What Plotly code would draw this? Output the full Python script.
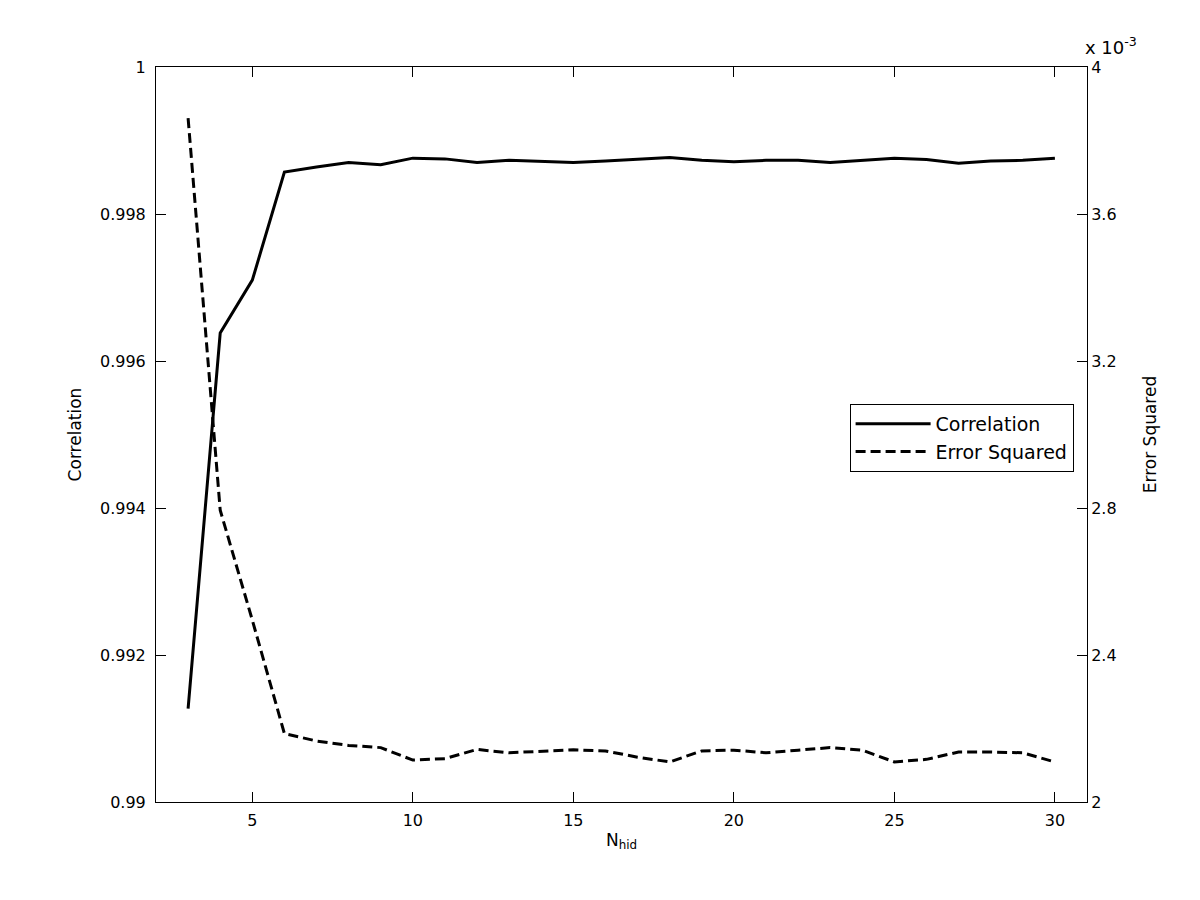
import plotly.graph_objects as go

# Dados
n_hid = list(range(3, 31))

correlation = [0.99127, 0.99638, 0.99710, 0.99857, 0.99864, 0.99870, 0.99867, 0.99876,
               0.99875, 0.99870, 0.99873, 0.99871, 0.99870, 0.99872, 0.99875, 0.99877,
               0.99873, 0.99871, 0.99873, 0.99873, 0.99870, 0.99873, 0.99876, 0.99874,
               0.99869, 0.99872, 0.99873, 0.99876]

error_sq = [3.861e-3, 2.794e-3, 2.495e-3, 2.186e-3, 2.166e-3, 2.154e-3, 2.148e-3, 2.114e-3,
            2.118e-3, 2.143e-3, 2.134e-3, 2.139e-3, 2.142e-3, 2.139e-3, 2.122e-3, 2.109e-3,
            2.139e-3, 2.141e-3, 2.134e-3, 2.141e-3, 2.148e-3, 2.141e-3, 2.109e-3, 2.116e-3,
            2.136e-3, 2.136e-3, 2.134e-3, 2.109e-3]

x_ticks = [5, 10, 15, 20, 25, 30]
y1_ticks = [0.99, 0.992, 0.994, 0.996, 0.998, 1.0]
y1_labels = ["0.99", "0.992", "0.994", "0.996", "0.998", "1"]
y2_ticks = [2.0e-3, 2.4e-3, 2.8e-3, 3.2e-3, 3.6e-3, 4.0e-3]
y2_labels = ["2", "2.4", "2.8", "3.2", "3.6", "4"]

FONT = "DejaVu Sans, sans-serif"
PRETO = "#000000"

fig = go.Figure()

fig.add_trace(go.Scatter(x=n_hid, y=correlation, mode="lines", name="Correlation",
                         line=dict(color=PRETO, width=3), yaxis="y"))
fig.add_trace(go.Scatter(x=n_hid, y=error_sq, mode="lines", name="Error Squared",
                         line=dict(color=PRETO, width=3, dash="10px,5px"), yaxis="y2"))

eixo = dict(showgrid=False, zeroline=False, showline=True, linecolor=PRETO, linewidth=1,
            ticks="inside", ticklen=10, tickcolor=PRETO, tickwidth=1,
            tickfont=dict(family=FONT, size=16, color=PRETO))

# a página desloca a figura 8 px; margens compensadas
fig.update_layout(
    width=1200, height=900,
    margin=dict(l=148, r=121, t=59, b=106),
    paper_bgcolor="white", plot_bgcolor="white",
    font=dict(family=FONT, size=16, color=PRETO),
    xaxis=dict(eixo, range=[2, 31], tickvals=x_ticks, mirror="ticks", ticklabelstandoff=4,
               title=dict(text="N<sub>hid</sub>", standoff=4, font=dict(size=17))),
    yaxis=dict(eixo, range=[0.99, 1.0], tickvals=y1_ticks, ticktext=y1_labels,
               ticklabelstandoff=6,
               title=dict(text="Correlation", standoff=14, font=dict(size=17))),
    yaxis2=dict(eixo, range=[2.0e-3, 4.0e-3], tickvals=y2_ticks, ticktext=y2_labels,
                overlaying="y", side="right",
                title=dict(text="Error Squared", standoff=28, font=dict(size=17))),
    legend=dict(x=0.745, y=0.5415, xanchor="left", yanchor="top",
                bordercolor=PRETO, borderwidth=1, bgcolor="white",
                font=dict(family=FONT, size=19), itemwidth=75, tracegroupgap=0),
    showlegend=True,
    annotations=[dict(text="x 10<sup>-3</sup>", xref="paper", yref="paper", x=1.0, y=1.0,
                      xanchor="left", yanchor="bottom", showarrow=False, xshift=-4, yshift=7,
                      font=dict(family=FONT, size=18, color=PRETO))],
)

fig.write_html("out.html")
